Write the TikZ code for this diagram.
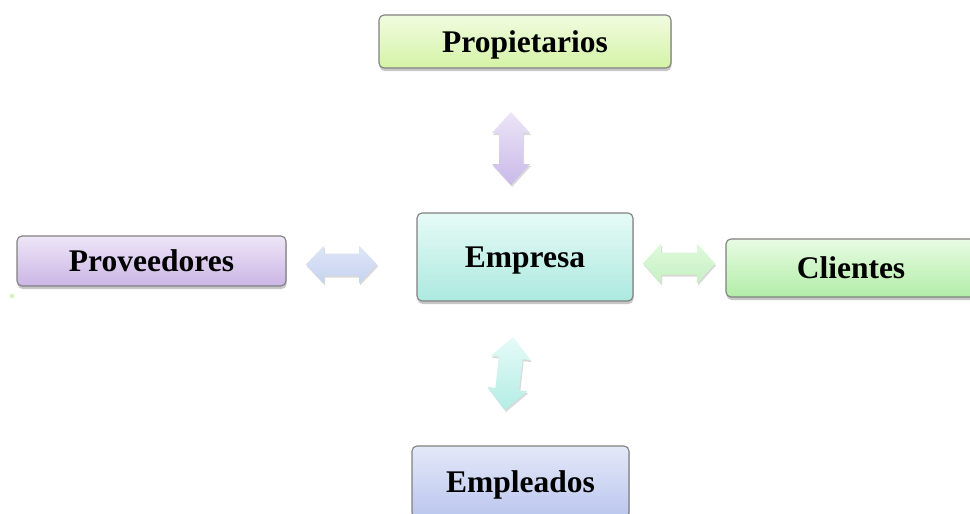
\documentclass[tikz,border=0pt]{standalone}
\usepackage{fontspec}
\setmainfont{Liberation Serif}
\usetikzlibrary{shadows}
\definecolor{borderg}{RGB}{128,128,128}
\definecolor{propT}{RGB}{241,252,224}
\definecolor{propB}{RGB}{212,243,166}
\definecolor{provT}{RGB}{238,230,248}
\definecolor{provB}{RGB}{203,181,229}
\definecolor{empT}{RGB}{230,251,246}
\definecolor{empB}{RGB}{172,233,223}
\definecolor{cliT}{RGB}{232,251,227}
\definecolor{cliB}{RGB}{178,237,167}
\definecolor{emplT}{RGB}{228,232,248}
\definecolor{emplB}{RGB}{186,198,238}
\definecolor{aTopT}{RGB}{236,229,247}
\definecolor{aTopB}{RGB}{201,185,233}
\definecolor{aLeftT}{RGB}{223,230,247}
\definecolor{aLeftB}{RGB}{198,210,240}
\definecolor{aRightT}{RGB}{223,249,220}
\definecolor{aRightB}{RGB}{198,241,194}
\definecolor{aBotT}{RGB}{230,251,248}
\definecolor{aBotB}{RGB}{179,237,228}
\definecolor{dotg}{RGB}{216,240,176}
\tikzset{
  box/.style={draw=borderg, line width=1.1pt, rounded corners=5pt,
    font=\fontsize{31.5}{36}\selectfont\bfseries, text=black, inner sep=0pt,
    text height=21pt, text depth=0pt,
    drop shadow={shadow xshift=0.5pt, shadow yshift=-3pt, opacity=0.22, fill=black}},
  blockarrow/.style={drop shadow={shadow xshift=1pt, shadow yshift=-2pt, opacity=0.15, fill=black}}
}
\begin{document}
\begin{tikzpicture}[x=1pt,y=-1pt]
\useasboundingbox (0,0) rectangle (970,514);
\clip (0,0) rectangle (970,514);
\fill[white] (0,0) rectangle (970,514);

\node[box, top color=propT, bottom color=propB, minimum width=292pt, minimum height=53pt] (prop) at (525,41.5) {Propietarios};
\node[box, top color=provT, bottom color=provB, minimum width=269pt, minimum height=50pt] (prov) at (151.5,261) {Proveedores};
\node[box, top color=empT, bottom color=empB, minimum width=216pt, minimum height=88pt] (emp) at (525,257) {Empresa};
\node[box, top color=cliT, bottom color=cliB, minimum width=250pt, minimum height=58pt] (cli) at (851,268) {Clientes};
\node[box, top color=emplT, bottom color=emplB, minimum width=217pt, minimum height=72pt] (empl) at (520.5,482) {Empleados};

% top double arrow
\path[blockarrow, top color=aTopT, bottom color=aTopB]
  (511,112) -- (530,133) -- (523,133) -- (523,164) -- (530,164) -- (511,185)
  -- (492,164) -- (499,164) -- (499,133) -- (492,133) -- cycle;
% left double arrow
\path[blockarrow, top color=aLeftT, bottom color=aLeftB]
  (306,264.5) -- (324,245.5) -- (324,253.5) -- (359,253.5) -- (359,245.5) -- (377,264.5)
  -- (359,283.5) -- (359,275.5) -- (324,275.5) -- (324,283.5) -- cycle;
% right double arrow
\path[blockarrow, top color=aRightT, bottom color=aRightB]
  (643,263.5) -- (661,243.5) -- (661,252.5) -- (697,252.5) -- (697,243.5) -- (715,263.5)
  -- (697,283.5) -- (697,274.5) -- (661,274.5) -- (661,283.5) -- cycle;
% bottom double arrow (slightly tilted)
\path[blockarrow, top color=aBotT, bottom color=aBotB]
  (513,337) -- (530.6,360.1) -- (522.6,359.2) -- (519.2,390.4) -- (527.2,391.3) -- (505,410)
  -- (487.4,386.9) -- (495.4,387.8) -- (498.8,356.6) -- (490.8,355.7) -- cycle;

% small dot
\fill[dotg] (12,296) circle (2.2pt);
\end{tikzpicture}
\end{document}
